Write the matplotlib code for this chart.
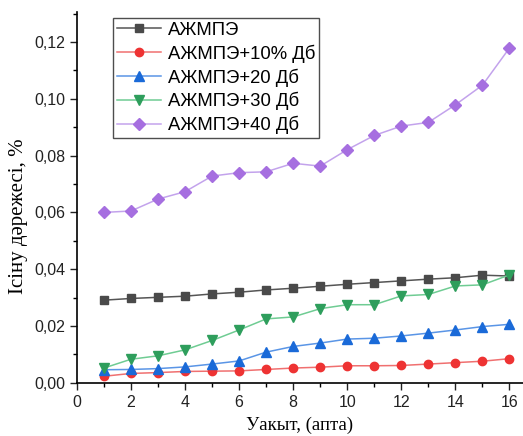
import matplotlib
matplotlib.use("Agg")
import matplotlib.pyplot as plt
from matplotlib.ticker import MultipleLocator, FuncFormatter

# weeks
weeks = list(range(1, 17))

# swelling degree, %
azhmpe = [0.0291, 0.0297, 0.0301, 0.0305, 0.0313, 0.0319, 0.0327, 0.0333,
          0.0340, 0.0347, 0.0353, 0.0359, 0.0365, 0.0370, 0.0379, 0.0376]
db10 = [0.0023, 0.0033, 0.0036, 0.0040, 0.0041, 0.0042, 0.0047, 0.0052,
        0.0055, 0.0060, 0.0060, 0.0061, 0.0066, 0.0071, 0.0076, 0.0085]
db20 = [0.0046, 0.0047, 0.0050, 0.0056, 0.0066, 0.0077, 0.0108, 0.0128,
        0.0140, 0.0154, 0.0157, 0.0165, 0.0175, 0.0186, 0.0198, 0.0206]
db30 = [0.0052, 0.0083, 0.0095, 0.0116, 0.0149, 0.0186, 0.0225, 0.0232,
        0.0261, 0.0275, 0.0275, 0.0306, 0.0311, 0.0341, 0.0345, 0.0380]
db40 = [0.0600, 0.0605, 0.0647, 0.0673, 0.0728, 0.0740, 0.0743, 0.0773,
        0.0763, 0.0821, 0.0871, 0.0904, 0.0917, 0.0979, 0.1048, 0.1179]

labels = ["АЖМПЭ", "АЖМПЭ+10% Дб", "АЖМПЭ+20 Дб", "АЖМПЭ+30 Дб", "АЖМПЭ+40 Дб"]

plt.rcParams['font.family'] = ['Liberation Sans', 'DejaVu Sans']

fig = plt.figure(figsize=(5.23, 4.36), dpi=100)
ax = fig.add_axes([0.147, 0.122, 0.853, 0.85])

# (line colour, marker colour, marker, size)
styles = [
    ("#555555", "#4a4a4a", "s", 6),
    ("#f07070", "#ee3333", "o", 6),
    ("#5a95e6", "#1a6ad8", "^", 7),
    ("#6fcc93", "#2e9e5c", "v", 7),
    ("#c3a3ec", "#a66fe0", "D", 6),
]
series = [azhmpe, db10, db20, db30, db40]

for vals, lab, (lc, mc, m, ms) in zip(series, labels, styles):
    ax.plot(weeks, vals, color=lc, lw=1.1, marker=m, ms=ms,
            markerfacecolor=mc, markeredgecolor=mc, label=lab)

ax.set_xlim(0, 16.5)
ax.set_ylim(0, 0.1305)
ax.xaxis.set_major_locator(MultipleLocator(2))
ax.xaxis.set_minor_locator(MultipleLocator(1))
ax.yaxis.set_major_locator(MultipleLocator(0.02))
ax.yaxis.set_minor_locator(MultipleLocator(0.01))
ax.yaxis.set_major_formatter(FuncFormatter(lambda v, p: f"{v:.2f}".replace(".", ",")))
ax.tick_params(which="major", length=5, width=1, labelsize=11.5, colors="#222222")
ax.tick_params(which="minor", length=3, width=1)

ax.spines["top"].set_visible(False)
ax.spines["right"].set_visible(False)
ax.spines["left"].set_linewidth(1.2)
ax.spines["bottom"].set_linewidth(1.2)

ax.set_ylabel("Ісіну дәрежесі, %", family=['Liberation Serif', 'DejaVu Serif'],
              fontsize=15)
ax.yaxis.set_label_coords(-0.11, 0.45)
ax.set_xlabel("Уакыт, (апта)", family=['Liberation Serif', 'DejaVu Serif'],
              fontsize=13.5, labelpad=5)

leg = ax.legend(loc="upper left", bbox_to_anchor=(0.081, 0.985), fontsize=13.3,
                frameon=True, fancybox=False, edgecolor="#222222",
                handlelength=2.4, borderpad=0.22, labelspacing=0.3,
                handletextpad=0.35, borderaxespad=0)
leg.get_frame().set_linewidth(1.0)

fig.savefig("out.png", dpi=100)
